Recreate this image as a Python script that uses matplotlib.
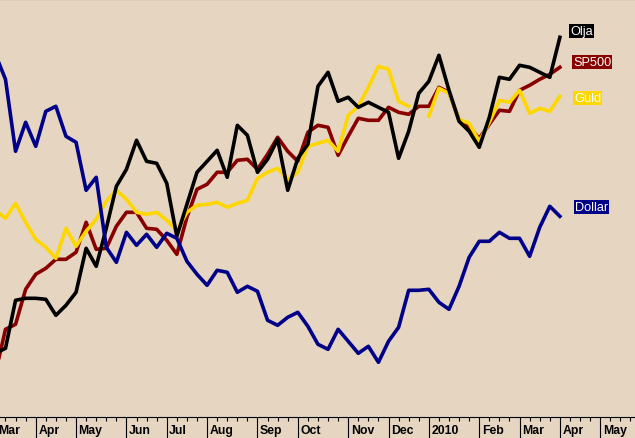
import numpy as np
import matplotlib
matplotlib.use('Agg')
import matplotlib.pyplot as plt
from matplotlib.transforms import blended_transform_factory, ScaledTranslation

# weekly index, week 0 = first week of March 2009
weeks = np.arange(57)

# heights (no y scale shown)
dollar = [363, 338, 266, 295, 271, 306, 311, 281, 275, 227, 240, 170, 155, 185, 172, 183, 170, 184, 179,
          156, 143, 132, 147, 145, 125, 131, 126, 97, 92, 100, 105, 91, 73, 68, 88, 76, 64, 71, 55,
          76, 90, 127, 127, 128, 115, 108, 131, 160, 176, 176, 185, 179, 179, 161, 190, 211, 201]
olja = [64, 69, 117, 119, 119, 118, 102, 112, 125, 169, 151, 189, 231, 248, 277, 256, 254, 234, 181,
        213, 245, 256, 267, 240, 292, 282, 245, 258, 278, 227, 259, 273, 331, 345, 316, 320, 310, 315,
        310, 305, 259, 286, 324, 336, 362, 327, 296, 286, 270, 300, 340, 338, 352, 350, 345, 340, 380]
sp500 = [44, 88, 93, 128, 143, 149, 158, 158, 165, 195, 168, 169, 191, 205, 205, 189, 188, 177, 163,
         200, 228, 233, 245, 245, 257, 258, 248, 263, 280, 266, 256, 285, 292, 290, 262, 281, 299, 297,
         297, 310, 305, 303, 311, 311, 330, 325, 297, 290, 279, 293, 307, 306, 327, 332, 338, 343, 350]
guld = [207, 199, 214, 195, 178, 170, 159, 189, 171, 186, 198, 216, 227, 218, 205, 203, 205, 197, 187,
        205, 212, 213, 215, 210, 214, 217, 239, 245, 249, 238, 245, 271, 274, 277, 266, 302, 311, 330,
        351, 348, 316, 311, np.nan, 301, 329, 324, 298, 294, 276, 295, 317, 315, 327, 304, 309, 306, 321]

month_weeks = [0, 4, 8, 13, 17, 21, 26, 30, 35, 39, 43, 48, 52, 56, 60]
month_labels = ['Mar', 'Apr', 'May', 'Jun', 'Jul', 'Aug', 'Sep', 'Oct', 'Nov', 'Dec',
                '2010', 'Feb', 'Mar', 'Apr', 'May']

names = ['Olja', 'SP500', 'Guld', 'Dollar']
label_x = [57.0, 57.3, 57.4, 57.5]
label_h = [386.5, 355, 319, 210.5]

bg = '#E5D5C1'
c_dollar = '#000088'
c_sp = '#880000'
c_guld = '#FFD700'
c_olja = '#000000'

fig = plt.figure(figsize=(6.35, 4.39), dpi=100)
fig.patch.set_facecolor(bg)
ax = fig.add_axes([-4.6 / 635, 20.7 / 439, 639.6 / 635, 418.3 / 439])
ax.set_facecolor(bg)
ax.set_xlim(0, 639.6 / 10.08)
ax.set_ylim(0, 418.3)

lw = 2.6
ax.plot(weeks, sp500, color=c_sp, lw=lw, zorder=2)
ax.plot(weeks, guld, color=c_guld, lw=lw, zorder=3)
ax.plot(weeks, olja, color=c_olja, lw=lw, zorder=4)
ax.plot(weeks, dollar, color=c_dollar, lw=lw, zorder=5)

for s in ['left', 'right']:
    ax.spines[s].set_visible(False)
ax.spines['top'].set_linewidth(1.5)
ax.spines['bottom'].set_linewidth(0.8)

ax.set_yticks([])
ax.set_xticks(month_weeks)
ax.set_xticks(np.arange(0, 64), minor=True)
ax.tick_params(axis='x', which='major', direction='out', length=16, width=0.8, labelbottom=False)
ax.tick_params(axis='x', which='minor', direction='out', length=3, width=0.8)

trans = blended_transform_factory(ax.transData, ax.transAxes) + \
    ScaledTranslation(2.5 / 100, -15.5 / 100, fig.dpi_scale_trans)
for w, lab in zip(month_weeks, month_labels):
    ax.text(w, 0, lab, transform=trans, ha='left', va='baseline', fontsize=8.8,
            fontweight='bold', family='Liberation Sans', clip_on=False)

box_colors = [c_olja, c_sp, c_guld, c_dollar]
for name, x, h, col in zip(names, label_x, label_h, box_colors):
    ax.text(x, h, name, ha='left', va='center', color='white', fontsize=9.2,
            family='Liberation Sans', zorder=6,
            bbox=dict(boxstyle='square,pad=0.08', facecolor=col, edgecolor='none'))

fig.savefig('out.png', dpi=100, facecolor=bg)
